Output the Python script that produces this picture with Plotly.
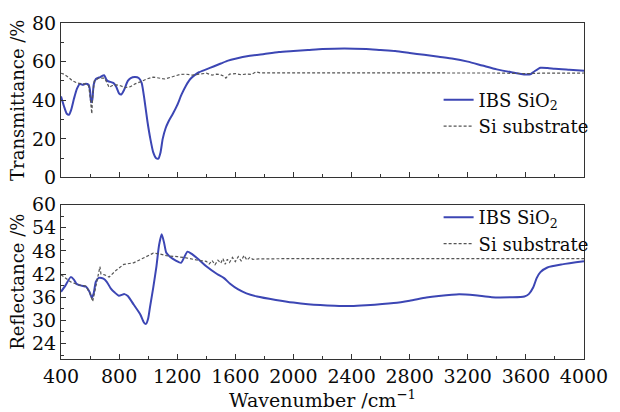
import plotly.graph_objects as go
from plotly.subplots import make_subplots

# Transmittance spectra (wavenumber in cm^-1, transmittance in %)
trans_film_wn = [400, 420, 440, 455, 470, 490, 510, 530, 550, 570, 590, 600, 607, 615, 625,
                 640, 670, 697, 710, 720, 740, 760, 780, 800, 815, 835, 860, 880, 910, 935,
                 955, 975, 995, 1015, 1035, 1055, 1070, 1085, 1100, 1120, 1140, 1170, 1200,
                 1230, 1260, 1290, 1320, 1350, 1400, 1450, 1500, 1550, 1600, 1700, 1800,
                 1900, 2000, 2100, 2200, 2350, 2500, 2600, 2700, 2800, 2900, 3000, 3100,
                 3200, 3300, 3400, 3500, 3600, 3630, 3660, 3700, 3750, 3800, 3900, 4000]
trans_film = [42, 37, 33, 32.5, 35, 41, 46, 48.5, 48, 48.5, 48, 45, 39, 40, 48,
              51, 52, 53, 51, 50, 49.5, 49, 47, 43.5, 43, 45.5, 50, 51.5, 52, 51.5,
              49, 40, 29, 20, 13, 10, 9.8, 13, 20, 25.5, 29, 33, 37.5,
              43, 47.5, 51, 53, 54.5, 56, 57.5, 59, 60.5, 61.5, 63, 64,
              65, 65.5, 66, 66.5, 66.8, 66.5, 66, 65.5, 64.5, 63.5, 62.5, 61.5,
              60, 58, 56, 54.5, 53.3, 53.4, 55, 56.8, 56.7, 56.3, 55.8, 55.3]

trans_sub_wn = [400, 420, 450, 480, 510, 540, 570, 590, 600, 607, 612, 618, 630, 660, 700,
                720, 731, 750, 780, 810, 840, 877, 910, 945, 990, 1035, 1075, 1114, 1160,
                1215, 1260, 1305, 1350, 1400, 1440, 1470, 1495, 1520, 1535, 1545, 1560,
                1600, 1640, 1680, 1710, 1744, 1770, 1850, 2200, 2600, 3000, 3400, 3600,
                3700, 4000]
trans_sub = [54, 53.5, 52, 50, 49, 48.5, 48.5, 47.5, 42, 34, 33, 42, 50, 51.5, 51.5,
             48.5, 46.7, 47.5, 48, 47.5, 46.5, 47, 48.5, 49.5, 51, 52, 51.5, 51, 52,
             53.3, 53.5, 53, 53.5, 54, 53, 53.5, 53.3, 52.5, 51.5, 52.5, 53.5,
             53.8, 53.2, 53.6, 53.4, 54.7, 54.2, 54.2, 54.2, 54.1, 54.2, 54.1, 53.8,
             54.0, 54.1]

# Reflectance spectra (wavenumber in cm^-1, reflectance in %)
refl_film_wn = [400, 430, 467, 490, 506, 540, 573, 595, 612, 625, 640, 660, 692, 715, 742,
                770, 798, 837, 860, 900, 945, 970, 985, 1000, 1012, 1035, 1057, 1075, 1093,
                1110, 1125, 1150, 1190, 1226, 1250, 1271, 1300, 1350, 1400, 1474, 1520,
                1564, 1620, 1676, 1750, 1879, 2000, 2100, 2284, 2397, 2500, 2690, 2800,
                2915, 3000, 3140, 3250, 3365, 3500, 3590, 3620, 3650, 3675, 3700, 3748,
                3850, 4000]
refl_film = [37.4, 39, 41.2, 40.5, 39.5, 39, 38.7, 37.5, 35.9, 37, 40, 41, 40.8, 40, 38.3,
             37.2, 36.4, 36.8, 36.3, 34.1, 31.6, 29.5, 29.1, 30.5, 33.3, 38.5, 44, 49.5, 52.3,
             50, 47.5, 46.5, 45.5, 44.9, 46.5, 47.8, 47.2, 45.7, 44, 42, 41,
             39.5, 38, 37, 36.2, 35.3, 34.6, 34.2, 33.8, 33.7, 33.9, 34.5, 35.1,
             35.9, 36.3, 36.75, 36.5, 36, 36, 36.2, 36.8, 38.5, 41, 42.5, 43.7,
             44.5, 45.3]

refl_sub_wn = [400, 430, 470, 520, 570, 600, 618, 630, 645, 660, 668, 675, 700, 731, 780,
               832, 900, 960, 1035, 1080, 1125, 1200, 1260, 1350, 1400, 1420, 1440, 1460,
               1480, 1500, 1515, 1530, 1545, 1560, 1580, 1600, 1620, 1640, 1660, 1680,
               1700, 1720, 1760, 2000, 2500, 3000, 3500, 4000]
refl_sub = [41.8, 41, 39.9, 39.2, 38.9, 37, 34.9, 37, 40, 42, 43.9, 42, 41.8, 41.2, 43,
            44.5, 44.9, 46, 47.4, 47.2, 46.75, 46.5, 46.2, 45.5, 45.3, 44.6, 45.5, 44.4,
            45.6, 44.8, 46, 44.5, 45.8, 45, 46.3, 45.2, 46.5, 45.4, 46.8, 45.6,
            46.3, 45.8, 45.9, 46, 46, 46, 46, 46]

x_ticks = [400, 800, 1200, 1600, 2000, 2400, 2800, 3200, 3600, 4000]
t_ticks = [0, 20, 40, 60, 80]
r_ticks = [24, 30, 36, 42, 48, 54, 60]

FONT = "DejaVu Serif"
BLUE = "#3c46b4"
GREY = "#555555"
AXIS = "#333333"
TXT = "#0a0a0a"

fig = make_subplots(rows=2, cols=1, shared_xaxes=False, vertical_spacing=0.0)

fig.add_trace(go.Scatter(x=trans_film_wn, y=trans_film, mode="lines", name="IBS SiO<sub>2</sub>",
                         line=dict(color=BLUE, width=2, shape="spline", smoothing=0.6),
                         legend="legend"), row=1, col=1)
fig.add_trace(go.Scatter(x=trans_sub_wn, y=trans_sub, mode="lines", name="Si substrate",
                         line=dict(color=GREY, width=1.2, dash="3px,2px"),
                         legend="legend"), row=1, col=1)
fig.add_trace(go.Scatter(x=refl_film_wn, y=refl_film, mode="lines", name="IBS SiO<sub>2</sub>",
                         line=dict(color=BLUE, width=2, shape="spline", smoothing=0.6),
                         legend="legend2"), row=2, col=1)
fig.add_trace(go.Scatter(x=refl_sub_wn, y=refl_sub, mode="lines", name="Si substrate",
                         line=dict(color=GREY, width=1.2, dash="3px,2px"),
                         legend="legend2"), row=2, col=1)

axis_common = dict(showline=True, linecolor=AXIS, linewidth=1.2, mirror=True,
                   ticks="inside", ticklen=5, tickcolor=AXIS, showgrid=False,
                   zeroline=False, tickfont=dict(family=FONT, size=19, color=TXT))

fig.update_xaxes(range=[400, 4000], tickvals=x_ticks,
                 minor=dict(dtick=200, ticks="inside", ticklen=3, tickcolor=AXIS),
                 **axis_common)
fig.update_xaxes(showticklabels=False, row=1, col=1)
fig.update_xaxes(title=dict(text="Wavenumber /cm<sup>−1</sup>", standoff=0,
                            font=dict(family=FONT, size=19, color=TXT)), row=2, col=1)

fig.update_yaxes(range=[0, 80], tickvals=t_ticks,
                 minor=dict(dtick=10, ticks="inside", ticklen=3, tickcolor=AXIS),
                 title=dict(text="Transmittance /%", standoff=2,
                            font=dict(family=FONT, size=18, color=TXT)),
                 row=1, col=1, **axis_common)
fig.update_yaxes(range=[20, 60], tickvals=r_ticks,
                 minor=dict(dtick=3, ticks="inside", ticklen=3, tickcolor=AXIS),
                 title=dict(text="Reflectance /%", standoff=2,
                            font=dict(family=FONT, size=18, color=TXT)),
                 row=2, col=1, **axis_common)

fig.update_layout(
    width=620, height=412,
    margin=dict(l=61, r=26, t=15, b=49),
    paper_bgcolor="white", plot_bgcolor="white",
    yaxis=dict(domain=[0.5402, 1.0]),
    yaxis2=dict(domain=[0.0, 0.4598]),
    legend=dict(x=0.722, y=0.826, xanchor="left", yanchor="top", bgcolor="rgba(0,0,0,0)",
                font=dict(family=FONT, size=18, color=TXT), tracegroupgap=0,
                itemwidth=30),
    legend2=dict(x=0.722, y=0.476, xanchor="left", yanchor="top", bgcolor="rgba(0,0,0,0)",
                 font=dict(family=FONT, size=18, color=TXT), tracegroupgap=0,
                 itemwidth=30),
    showlegend=True,
)

fig.write_html("out.html")
